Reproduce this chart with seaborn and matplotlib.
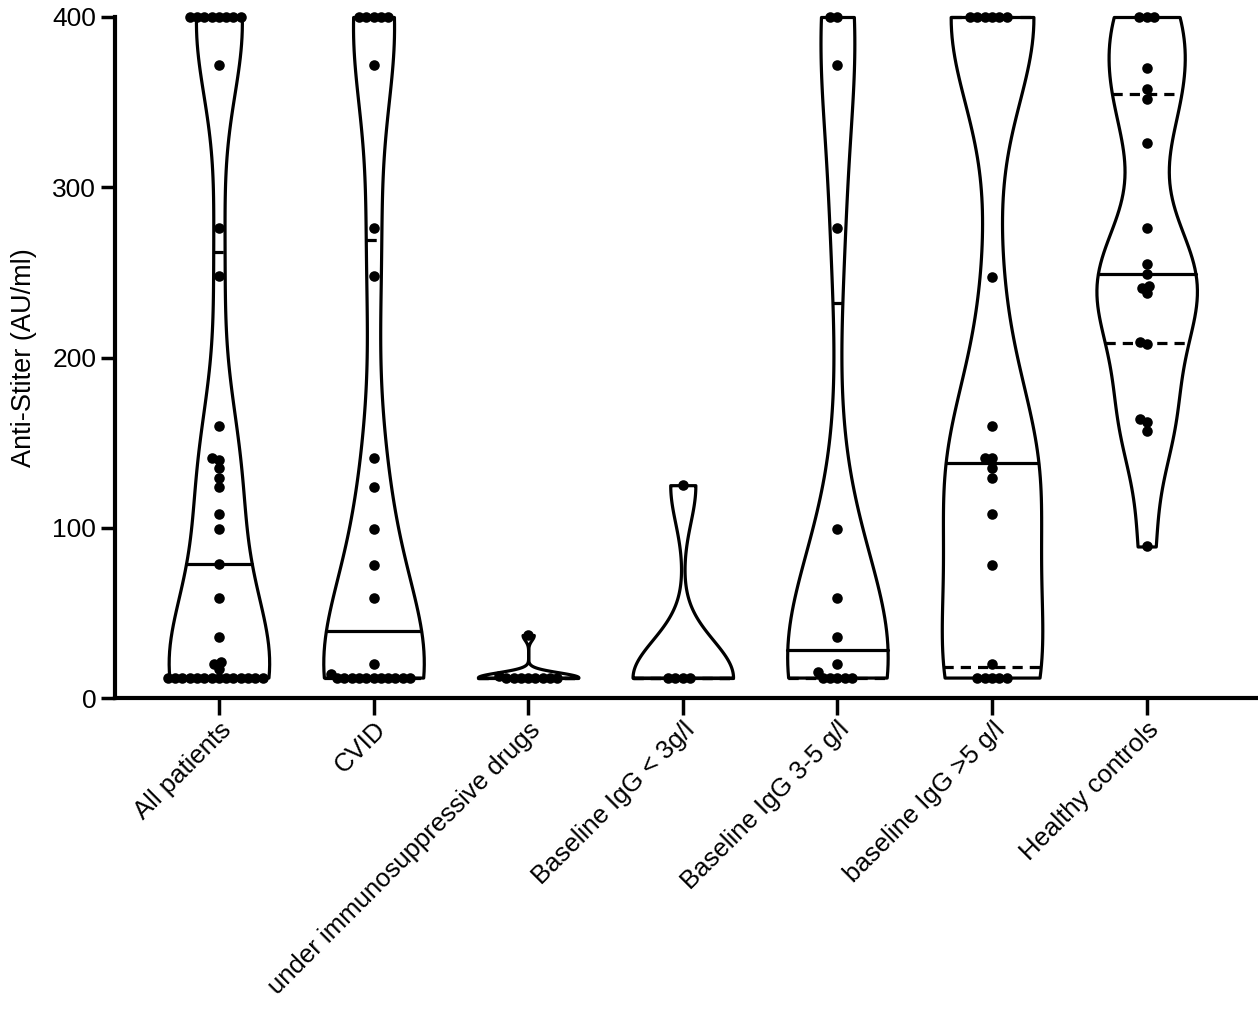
import matplotlib
matplotlib.use("Agg")
import matplotlib.pyplot as plt
import seaborn as sns
import pandas as pd

groups = ["All patients", "CVID", "under immunosuppressive drugs", "Baseline IgG < 3g/l",
          "Baseline IgG 3-5 g/l", "baseline IgG >5 g/l", "Healthy controls"]

all_patients = [400, 400, 400, 400, 400, 400, 400, 400, 372, 276, 248, 160, 141, 140, 135, 129,
                124, 108, 99, 79, 59, 36, 21, 20, 17,
                12, 12, 12, 12, 12, 12, 12, 12, 12, 12, 12, 12, 12, 12]
cvid = [400, 400, 400, 400, 400, 372, 276, 248, 141, 124, 99, 78, 59, 20, 14,
        12, 12, 12, 12, 12, 12, 12, 12, 12, 12, 12]
immuno = [37, 13, 12, 12, 12, 12, 12, 12, 12, 12]
igg_low = [125, 12, 12, 12, 12]
igg_mid = [400, 400, 372, 276, 99, 59, 36, 20, 15, 12, 12, 12, 12, 12]
igg_high = [400, 400, 400, 400, 400, 400, 247, 160, 141, 141, 135, 129, 108, 78, 20,
            12, 12, 12, 12, 12]
healthy = [400, 400, 400, 370, 358, 352, 326, 276, 255, 249, 242, 241, 238, 209, 208,
           164, 162, 157, 89]

yticks = [0, 100, 200, 300, 400]

values = [all_patients, cvid, immuno, igg_low, igg_mid, igg_high, healthy]
df = pd.concat([pd.DataFrame({"Group": g, "Titer": v}) for g, v in zip(groups, values)],
               ignore_index=True)

sns.set_style("ticks")
plt.rcParams['font.family'] = ['Liberation Sans', 'DejaVu Sans']
for k in ["text.color", "axes.labelcolor", "xtick.color", "ytick.color", "axes.edgecolor"]:
    plt.rcParams[k] = "black"

fig = plt.figure(figsize=(12.58, 10.16), dpi=100)
ax = fig.add_axes([115 / 1258, 1 - 698 / 1016, 1 - 115 / 1258, (698 - 17) / 1016])

sns.violinplot(data=df, x="Group", y="Titer", order=groups, cut=0, bw_adjust=0.6,
               density_norm="width", width=0.65, inner="quart", color="white",
               linecolor="black", linewidth=2.3, saturation=1, ax=ax,
               inner_kws={"linewidth": 2.3})

# median solid, quartiles dashed (Prism style)
for i, ln in enumerate(ax.lines):
    if i % 3 == 1:
        ln.set_linestyle("-")
    else:
        ln.set_linestyle((0, (3.2, 2.2)))
    ln.set_clip_on(False)

n0 = len(ax.collections)
# lay the swarm out with small markers so rows pack tight, then enlarge (dots overlap like Prism)
sns.swarmplot(data=df, x="Group", y="Titer", order=groups, color="black", size=5.0,
              ax=ax, warn_thresh=1)
swarm = ax.collections[n0:]

ax.set_ylim(0, 400)
ax.set_xlim(-0.672, 6.72)
ax.set_yticks(yticks)
ax.set_yticklabels([str(t) for t in yticks], fontsize=19)
ax.set_xticks(range(len(groups)))
ax.set_xticklabels(groups, rotation=45, ha="right", rotation_mode="anchor", fontsize=18.5)
ax.set_xlabel("")
ax.set_ylabel("Anti-Stiter (AU/ml)", fontsize=19.5, labelpad=11)

ax.tick_params(axis="both", width=2.5, length=10, color="black")
ax.tick_params(axis="x", length=12, pad=2)
for s in ["left", "bottom"]:
    ax.spines[s].set_linewidth(3)
sns.despine(ax=ax)

fig.canvas.draw()
for c in swarm:
    if "draw" in c.__dict__:
        del c.draw
    c.set_sizes([7.6 ** 2])
for c in ax.collections:
    c.set_clip_on(False)

fig.savefig("out.png", dpi=100)
